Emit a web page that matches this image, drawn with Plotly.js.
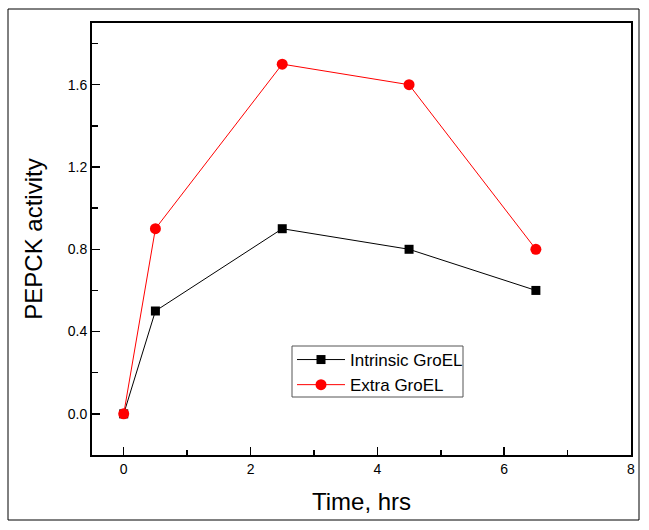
<!DOCTYPE html>
<html>
<head>
<meta charset="utf-8">
<script src="https://cdn.plot.ly/plotly-3.0.1.min.js"></script>
<style>
html,body{margin:0;padding:0;background:#fff;}
#chart{width:649px;height:530px;}
</style>
</head>
<body>
<div id="chart"></div>
<script>
var timeHrs = [0, 0.5, 2.5, 4.5, 6.5];
var intrinsicGroEL = [0, 0.5, 0.9, 0.8, 0.6];
var extraGroEL = [0, 0.9, 1.7, 1.6, 0.8];
var seriesNames = ['Intrinsic GroEL', 'Extra GroEL'];
var xTicks = [0, 2, 4, 6, 8];
var yTicks = [0.0, 0.4, 0.8, 1.2, 1.6];
var yTickText = ['0.0', '0.4', '0.8', '1.2', '1.6'];

var traces = [
  {
    x: timeHrs, y: intrinsicGroEL, name: seriesNames[0],
    type: 'scatter', mode: 'lines+markers',
    line: {color: '#000000', width: 1},
    marker: {symbol: 'square', size: 9, color: '#000000'}
  },
  {
    x: timeHrs, y: extraGroEL, name: seriesNames[1],
    type: 'scatter', mode: 'lines+markers',
    line: {color: '#ff0000', width: 1},
    marker: {symbol: 'circle', size: 11, color: '#ff0000'}
  }
];

var L = 92, R = 631, T = 23, B = 455;
var pw = R - L, ph = B - T;
function px(x) { return (x - L) / pw; }
function py(y) { return (B - y) / ph; }

var layout = {
  width: 649, height: 530,
  margin: {l: L, r: 649 - R, t: T, b: 530 - B},
  paper_bgcolor: '#ffffff', plot_bgcolor: '#ffffff',
  font: {family: "'Liberation Sans', Arial, sans-serif", color: '#000000'},
  showlegend: true,
  legend: {
    x: px(292), y: py(342), xanchor: 'left', yanchor: 'top',
    borderwidth: 0, bgcolor: 'rgba(0,0,0,0)',
    font: {size: 17, color: '#000000'},
    tracegroupgap: 0, itemwidth: 48
  },
  xaxis: {
    range: [-0.5, 8], tickvals: xTicks, ticktext: xTicks.map(String),
    ticks: 'inside', ticklen: 8, tickwidth: 1.5, tickcolor: '#000',
    showline: true, linecolor: '#000', linewidth: 2, mirror: true,
    showgrid: false, zeroline: false,
    tickfont: {size: 14},
    minor: {tickvals: [1, 3, 5, 7], ticks: 'inside', ticklen: 5, tickwidth: 1.5, tickcolor: '#000', showgrid: false},
    title: {text: 'Time, hrs', font: {size: 24}, standoff: 17}
  },
  yaxis: {
    range: [-0.2, 1.9], tickvals: yTicks, ticktext: yTickText,
    ticks: 'inside', ticklen: 8, tickwidth: 1.5, tickcolor: '#000',
    showline: true, linecolor: '#000', linewidth: 2, mirror: true,
    showgrid: false, zeroline: false,
    tickfont: {size: 14},
    minor: {tickvals: [0.2, 0.6, 1.0, 1.4, 1.8], ticks: 'inside', ticklen: 6, tickwidth: 1.5, tickcolor: '#000', showgrid: false},
    title: {text: 'PEPCK activity', font: {size: 24}, standoff: 18}
  },
  shapes: [
    {type: 'rect', xref: 'paper', yref: 'paper',
     x0: px(8), x1: px(639), y0: py(520), y1: py(9),
     line: {color: '#000', width: 1}, fillcolor: 'rgba(0,0,0,0)', layer: 'below'},
    {type: 'rect', xref: 'paper', yref: 'paper',
     x0: px(292), x1: px(463), y0: py(397), y1: py(346),
     line: {color: '#555', width: 1}, fillcolor: 'rgba(0,0,0,0)', layer: 'above'}
  ]
};

Plotly.newPlot('chart', traces, layout, {displayModeBar: false, staticPlot: true});
</script>
</body>
</html>
